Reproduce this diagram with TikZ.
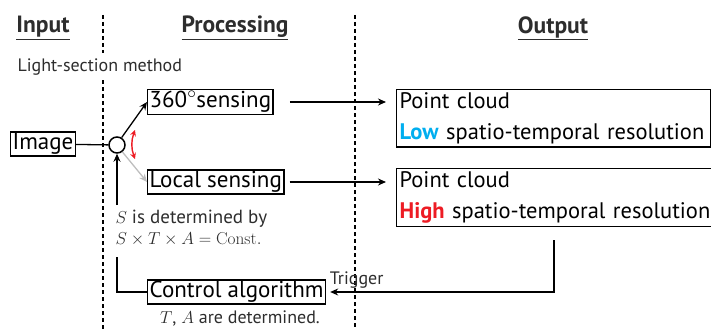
\documentclass[tikz,border=0pt]{standalone}
\usepackage[no-math]{fontspec}
\setmainfont{PT Sans}
\usepackage{tikz}
\usetikzlibrary{arrows.meta}
\definecolor{lowblue}{RGB}{0,174,239}
\definecolor{highred}{RGB}{237,28,36}
\definecolor{headgray}{RGB}{45,45,45}
\definecolor{switchgray}{RGB}{190,190,190}

\begin{document}
\begin{tikzpicture}[x=1pt, y=-1pt, line width=1pt,
    box/.style={draw=black, line width=1.3pt, inner xsep=2pt, inner ysep=1.5pt, font=\fontsize{23}{26}\selectfont},
    outbox/.style={box, anchor=north west, align=left, inner xsep=3pt, inner ysep=3pt, font=\fontsize{22.5}{31}\selectfont},
    head/.style={text=headgray, font=\fontsize{23.5}{26}\selectfont\bfseries},
    note/.style={text=headgray, font=\fontsize{18}{21}\selectfont},
    sep/.style={color=black, line width=1.6pt, dash pattern=on 4pt off 3pt},
    arr/.style={-{Stealth[length=8pt, width=7pt]}, line width=1.3pt}]
    \useasboundingbox (0,0) rectangle (711,329);

    % draw column separators
    \draw[sep] (103,15) -- (103,53);
    \draw[sep] (103,80) -- (103,329);
    \draw[sep] (355,15) -- (355,329);

    % column titles
    \node[head] (hin) at (43,28) {\underline{Input}};
    \node[head] (hproc) at (235,28) {\underline{Processing}};
    \node[head] (hout) at (553,28) {\underline{Output}};
    \node[note, anchor=west, inner sep=0pt] (method) at (17,67) {Light-section method};

    % draw processing blocks
    \node[box] (img) at (43,144) {Image};
    \node[circle, draw=black, line width=1.5pt, minimum size=16pt, inner sep=0pt] (sw) at (117,145) {};
    \node[box, anchor=west] (full) at (147,102) {360$^\circ$sensing};
    \node[box, anchor=west] (local) at (147,182) {Local sensing};
    \node[box, anchor=west] (ctrl) at (147,292) {Control algorithm};
    \node[note, font=\fontsize{19}{21}\selectfont, anchor=north west, align=left, inner sep=0pt] (rule) at (115,210)
      {$S$ is determined by\\$S\times T\times A=\mathrm{Const.}$};
    \node[note, inner sep=0pt] (ta) at (240,318) {$T$, $A$ are determined.};

    % draw output blocks
    \node[outbox, text width=308pt] (low) at (396,89)
      {Point cloud\\\mbox{\textcolor{lowblue}{\textbf{Low}} spatio-temporal resolution}};
    \node[outbox, text width=330pt] (high) at (396,168)
      {Point cloud\\\mbox{\textcolor{highred}{\textbf{High}} spatio-temporal resolution}};

    % draw connectors
    \draw[color=black, line width=1.3pt] (img) -- (sw);
    \draw[arr] (sw.58) -- (full.west);
    \draw[arr, color=switchgray] (sw.-52) -- (local.west);
    \draw[{Stealth[length=6pt, width=6pt]}-{Stealth[length=6pt, width=6pt]}, color=highred, line width=1.4pt]
      (135,130) to[bend right=20] (135,159);
    \draw[arr, shorten <=16pt, shorten >=10pt] (full.east) -- (low.west |- full.east);
    \draw[arr, shorten <=5pt, shorten >=10pt] (local.east) -- (high.west |- local.east);

    % draw feedback loop
    \coordinate (fbtop) at (117,205);
    \coordinate (fbbot) at (117,257);
    \coordinate (trig) at (554,240);
    \draw[color=black, line width=1.3pt] (ctrl.west) -| (fbbot);
    \draw[arr] (fbtop) -- (sw.south);
    \draw[arr, shorten >=4pt] (trig) |- (ctrl.east)
      node[pos=1, anchor=south west, note, inner sep=3pt] (trg) {Trigger};
\end{tikzpicture}
\end{document}
